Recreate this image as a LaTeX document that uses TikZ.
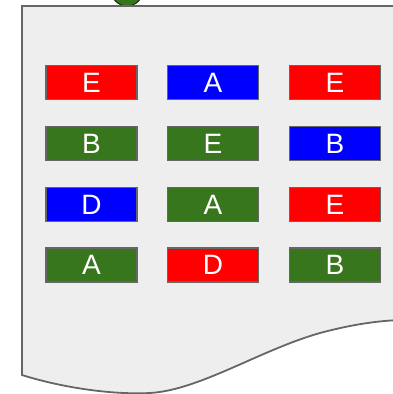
\documentclass[tikz,border=0pt]{standalone}
\usepackage{fontspec}
\setmainfont{Liberation Sans}
\definecolor{docfill}{HTML}{EEEEEE}
\definecolor{docline}{HTML}{666666}
\definecolor{cgreen}{HTML}{38761D}
\definecolor{cblue}{HTML}{0000FF}
\definecolor{cred}{HTML}{FF0000}
\tikzset{
  cell/.style={draw=docline, line width=1.5pt, minimum width=91pt, minimum height=34pt,
    inner sep=0pt, text=white, font=\fontsize{28}{28}\selectfont},
  gcell/.style={cell, fill=cgreen},
  bcell/.style={cell, fill=cblue},
  rcell/.style={cell, fill=cred},
}
\begin{document}
\begin{tikzpicture}[x=1pt,y=-1pt]
\useasboundingbox (0,0) rectangle (393,394);
\clip (0,0) rectangle (393,394);
\fill[cgreen, draw=black!60!cgreen, line width=1pt] (127,-10) circle (16);
\draw[fill=docfill, draw=docline, line width=1.8pt]
  (22,375) -- (22,6) -- (400,6) -- (400,320)
  .. controls (375,321) and (350,325) .. (320,333)
  .. controls (260,350) and (200,390) .. (150,393)
  .. controls (110,395) and (60,387) .. (22,375) -- cycle;
\node[rcell] (a1) at (91.5,82.5) {E};
\node[bcell] (a2) at (213,82.5) {A};
\node[rcell] (a3) at (335,82.5) {E};
\node[gcell] (b1) at (91.5,143.5) {B};
\node[gcell] (b2) at (213,143.5) {E};
\node[bcell] (b3) at (335,143.5) {B};
\node[bcell] (c1) at (91.5,204.5) {D};
\node[gcell] (c2) at (213,204.5) {A};
\node[rcell] (c3) at (335,204.5) {E};
\node[gcell] (d1) at (91.5,265) {A};
\node[rcell] (d2) at (213,265) {D};
\node[gcell] (d3) at (335,265) {B};
\end{tikzpicture}
\end{document}
